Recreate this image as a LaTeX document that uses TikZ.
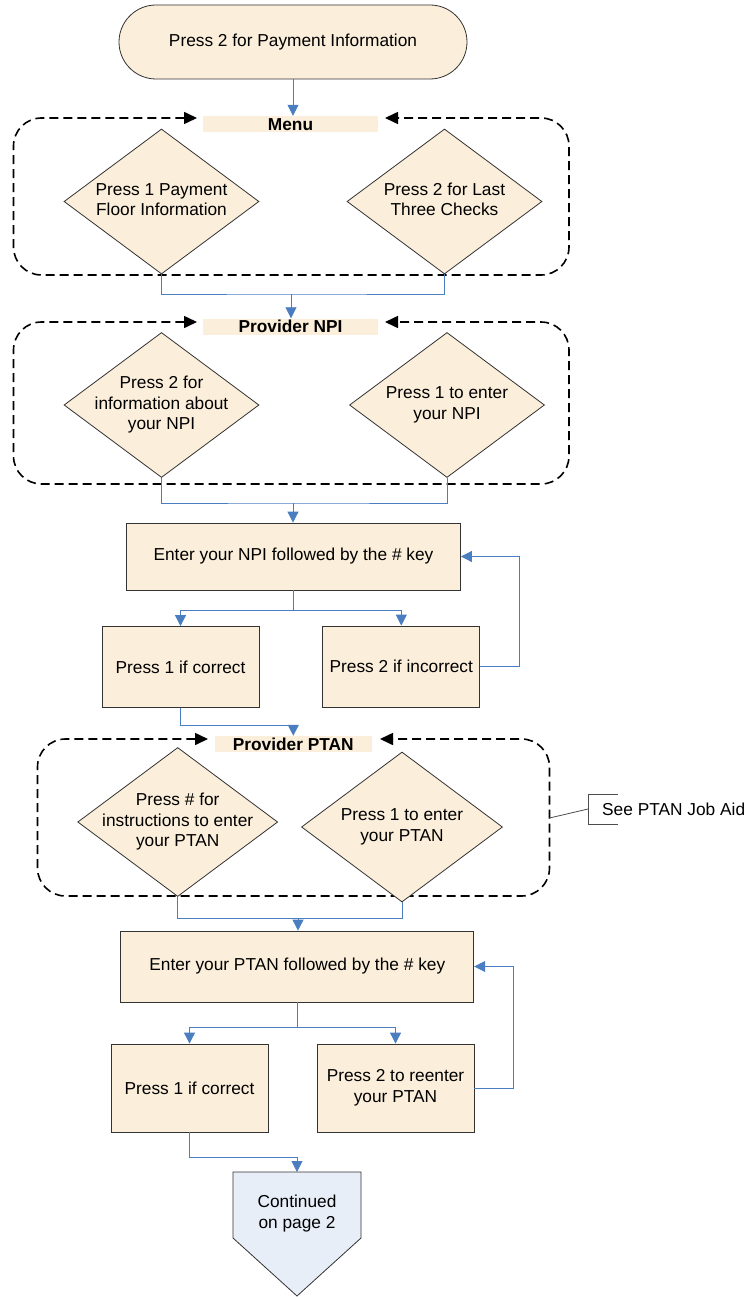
\documentclass[tikz,border=0pt]{standalone}
\usepackage{fontspec}
\setmainfont{Liberation Sans}
\usetikzlibrary{shapes.geometric,arrows.meta}
\definecolor{beige}{HTML}{FBEEDA}
\definecolor{cblue}{HTML}{4A7EC0}
\definecolor{cfill}{HTML}{E8EEF8}
\newcommand{\fz}{\fontsize{17.3pt}{20.7pt}\selectfont}
\newcommand{\diatext}[1]{\makebox[0pt]{\begin{tabular}{@{}c@{}}#1\end{tabular}}}
\tikzset{
  box/.style={draw=black!80, fill=beige, line width=0.8pt, align=center, inner sep=2pt, font=\fz},
  term/.style={box, rounded corners=37pt, minimum width=348pt, minimum height=74pt},
  dia/.style={diamond, draw=black!80, fill=beige, line width=0.8pt, inner sep=0pt, aspect=1.34,
              minimum width=195pt, minimum height=145pt, font=\fz},
  grp/.style={fill=beige, font=\fz\bfseries, minimum width=175pt, minimum height=16pt,
              text height=12.4pt, text depth=0pt, inner sep=0pt},
  frame/.style={draw=black, line width=1.6pt, dash pattern=on 9pt off 5pt, rounded corners=28pt,
                {Triangle[length=13pt,width=12pt,fill=black]}-{Triangle[length=13pt,width=12pt,fill=black]}},
  conn/.style={draw=cblue, line width=0.8pt},
  arr/.style={conn, -{Triangle[length=11pt,width=11pt]}},
  notel/.style={draw=black!70, line width=0.8pt},
}
\begin{document}
\begin{tikzpicture}[x=1pt,y=-1pt]
\useasboundingbox (0,0) rectangle (752,1297);

% start
\node[term] (start) at (293,42) {Press 2 for Payment Information};

% Menu group
\draw[frame] (197,118) -- (13.5,118) -- (13.5,275) -- (569,275) -- (569,118) -- (385,118);
\node[grp] (menu) at (290.5,124) {Menu};
\node[dia] (m1) at (161.5,201.5) {\diatext{Press 1 Payment\\Floor Information}};
\node[dia] (m2) at (444.5,201.5) {\diatext{Press 2 for Last\\Three Checks}};
\draw[arr] (start.south) -- (start.south |- menu.north);

\coordinate (j1) at (291,294);
\draw[conn] (m1.south) |- (j1) -| (m2.south);

% Provider NPI group
\draw[frame] (197,322) -- (13.5,322) -- (13.5,484) -- (569,484) -- (569,322) -- (385,322);
\node[grp] (npi) at (290.5,326.5) {Provider NPI};
\draw[arr] (j1) -- (j1 |- npi.north);
\node[dia] (n1) at (161.5,405) {\diatext{Press 2 for\\information about\\your NPI}};
\node[dia] (n2) at (447,405) {\diatext{Press 1 to enter\\your NPI}};

\coordinate (j2) at (293,503);
\draw[conn] (n1.south) |- (j2) -| (n2.south);

\node[box, minimum width=334pt, minimum height=67pt] (npibox) at (293.5,556.5) {Enter your NPI followed by the \# key};
\draw[arr] (j2) -- (j2 |- npibox.north);

\coordinate (j3) at (293.5,610);
\node[box, minimum width=157pt, minimum height=81pt] (ok1) at (180.5,667) {Press 1 if correct};
\node[box, minimum width=157pt, minimum height=81pt] (bad1) at (401.3,666.5) {Press 2 if incorrect};
\draw[conn] (npibox.south) -- (j3);
\draw[arr] (j3) -| (ok1.north);
\draw[arr] (j3) -| (bad1.north);
\draw[arr] (bad1.east) -- ++(39,0) |- (npibox.east);

% Provider PTAN group
\coordinate (j4) at (293.3,725.7);
\draw[frame] (208,739) -- (37.5,739) -- (37.5,896) -- (549.5,896) -- (549.5,739) -- (380,739);
\node[grp, minimum width=157pt] (ptan) at (293.3,744) {Provider PTAN};
\draw[arr] (ok1.south) |- (j4) -- (j4 |- ptan.north);
\node[dia, minimum width=200pt, minimum height=149pt] (p1) at (177.7,822) {\diatext{Press \# for\\instructions to enter\\your PTAN}};
\node[dia, minimum width=201pt, minimum height=150pt] (p2) at (402,827) {\diatext{Press 1 to enter\\your PTAN}};

\coordinate (j5) at (298,918);
\draw[conn] (p1.south) |- (j5) -| (p2.south);

\node[box, minimum width=353pt, minimum height=71pt] (ptanbox) at (297.3,966.5) {Enter your PTAN followed by the \# key};
\draw[arr] (j5) -- (j5 |- ptanbox.north);

\coordinate (j6) at (297.3,1027);
\node[box, minimum width=157pt, minimum height=88pt] (ok2) at (189.5,1088) {Press 1 if correct};
\node[box, minimum width=157pt, minimum height=88pt] (re2) at (395.5,1088) {Press 2 to reenter\\your PTAN};
\draw[conn] (ptanbox.south) -- (j6);
\draw[arr] (j6) -| (ok2.north);
\draw[arr] (j6) -| (re2.north);
\draw[arr] (re2.east) -- ++(39,0) |- (ptanbox.east);

% off-page connector
\coordinate (ctop) at (297,1172);
\draw[draw=black!80, fill=cfill, line width=0.8pt] (233,1172) -- (361,1172) -- (361,1238) -- (297,1296) -- (233,1238) -- cycle;
\node[align=center, font=\fz, inner sep=0pt] (cont) at (297,1213.5) {Continued\\on page 2};
\coordinate (j7) at (297,1157);
\draw[arr] (ok2.south) |- (j7) -- (ctop);

% annotation
\node[anchor=west, inner sep=0pt, font=\fz] (note) at (602,809) {See PTAN Job Aid};
\coordinate (nb) at (588,809);
\coordinate (pf) at (549.5,818);
\draw[notel] (618,794) -- (588,794) -- (588,824) -- (618,824);
\draw[notel] (pf) -- (nb);
\end{tikzpicture}
\end{document}
